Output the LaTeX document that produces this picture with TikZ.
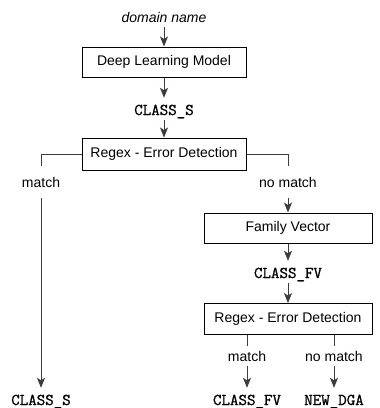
\documentclass[tikz,border=0pt]{standalone}
\usepackage{fontspec}
\setmainfont{Liberation Sans}
\newfontfamily\monob[FakeBold=1.2]{Latin Modern Mono}
\usetikzlibrary{arrows.meta}
\definecolor{conn}{RGB}{60,60,60}
\tikzset{
  box/.style={draw=black, line width=1pt, minimum height=30pt, inner sep=0pt,
    font=\fontsize{14}{16}\selectfont, text height=10pt, text depth=3pt},
  mono/.style={font=\monob\bfseries\fontsize{16.5}{18}\selectfont, inner xsep=2pt,
    inner ysep=3pt, text height=14pt, text depth=2pt, anchor=base},
  lbl/.style={font=\fontsize{14}{16}\selectfont, inner xsep=2pt, text height=10pt,
    text depth=0pt, anchor=base},
  conn/.style={draw=conn, line width=0.9pt},
  arr/.style={conn, -{Stealth[length=10pt,width=8pt,inset=2.5pt]}},
}
\begin{document}
\begin{tikzpicture}[x=1pt,y=-1pt]
\useasboundingbox (0,0) rectangle (380,408);
\node[lbl, inner ysep=5pt, font=\itshape\fontsize{14}{16}\selectfont] (dn) at (164,22) {domain name};
\node[box, minimum width=164pt] (dlm) at (164,62) {Deep Learning Model};
\node[mono] (cs1) at (164,115) {CLASS\_S};
\node[box, minimum width=164pt, minimum height=32pt] (rx1) at (164,154) {Regex - Error Detection};
\node[lbl, inner ysep=11pt] (m1) at (41,187) {match};
\node[lbl, inner ysep=11pt] (nm1) at (288,187) {no match};
\node[box, minimum width=168pt] (fv) at (288,228) {Family Vector};
\node[mono] (cfv) at (288,278) {CLASS\_FV};
\node[box, minimum width=168pt, minimum height=31pt] (rx2) at (288,319) {Regex - Error Detection};
\node[lbl, inner ysep=5pt] (m2) at (247,361) {match};
\node[lbl, inner ysep=5pt] (nm2) at (334,361) {no match};
\node[mono] (o1) at (41,405) {CLASS\_S};
\node[mono] (o2) at (247,405) {CLASS\_FV};
\node[mono] (o3) at (334,405) {NEW\_DGA};

\draw[arr] (dn.south) -- (dlm.north);
\draw[arr] (dlm.south) -- (cs1.north);
\draw[arr] (cs1.south) -- (rx1.north);
\draw[conn] (rx1.west) -| (m1.north);
\draw[arr] (m1.south) -- (o1.north);
\draw[conn] (rx1.east) -| (nm1.north);
\draw[arr] (nm1.south) -- (fv.north);
\draw[arr] (fv.south) -- (cfv.north);
\draw[arr] (cfv.south) -- (rx2.north);
\draw[conn] (rx2.south -| m2.north) -- (m2.north);
\draw[arr] (m2.south) -- (o2.north);
\draw[conn] (rx2.south -| nm2.north) -- (nm2.north);
\draw[arr] (nm2.south) -- (o3.north);
\end{tikzpicture}
\end{document}
